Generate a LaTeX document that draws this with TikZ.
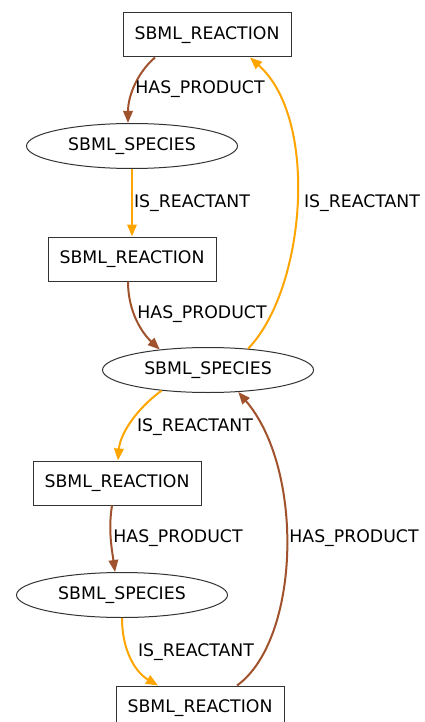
\documentclass[tikz,border=0pt]{standalone}
\usepackage{fontspec}
\setmainfont{DejaVu Sans}
\usetikzlibrary{shapes.geometric,arrows.meta,calc}
\definecolor{brownedge}{HTML}{A0522D}
\definecolor{orangeedge}{HTML}{FFA500}
\definecolor{nodeborder}{HTML}{333333}
\begin{document}
\begin{tikzpicture}[x=1pt,y=-1pt,
  every node/.style={font=\fontsize{17.3}{20}\selectfont, text=black},
  reaction/.style={draw=nodeborder, line width=1pt, rectangle, minimum width=168pt, minimum height=44pt, inner sep=0pt},
  species/.style={draw=nodeborder, line width=1pt, ellipse, minimum width=211pt, minimum height=45pt, inner sep=0pt},
  hasprod/.style={draw=brownedge, line width=2pt, -{Triangle[length=12pt,width=9.5pt]}},
  isreact/.style={draw=orangeedge, line width=2pt, -{Triangle[length=12pt,width=9.5pt]}},
  elabel/.style={inner sep=0pt}]
\useasboundingbox (0,0) rectangle (424,722);
\fill[white] (0,0) rectangle (424,722);

\node[reaction] (R1) at (207,35) {SBML\_REACTION};
\node[species]  (S1) at (132,146) {SBML\_SPECIES};
\node[reaction] (R2) at (132,259) {SBML\_REACTION};
\node[species]  (S2) at (208,370) {SBML\_SPECIES};
\node[reaction] (R3) at (117,483) {SBML\_REACTION};
\node[species]  (S3) at (122,595) {SBML\_SPECIES};
\node[reaction] (R4) at (200,708) {SBML\_REACTION};

% edges
\draw[hasprod] ($(R1.south)+(-52,0)$) .. controls (138,72) and (128,95) .. ($(S1.north)+(-4,0)$);
\draw[isreact] (S1.south) -- (R2.north);
\draw[hasprod] ($(R2.south)+(-4,0)$) .. controls (128,312) and (142,333) .. (S2.157);
\draw[isreact] (S2.28) .. controls (305,290) and (320,120) .. ($(R1.south)+(43,0)$);
\draw[isreact] (S2.204) .. controls (135,410) and (120,435) .. ($(R3.north)+(1,0)$);
\draw[hasprod] ($(R3.south)+(-5,0)$) .. controls (108,530) and (112,550) .. ($(S3.north)+(-7,0)$);
\draw[isreact] (S3.south) .. controls (122,650) and (135,672) .. ($(R4.north)+(-42,0)$);
\draw[hasprod] ($(R4.north)+(37,0)$) .. controls (300,640) and (305,470) .. (S2.324);

% labels
\node[elabel] (L1) at (200,89) {HAS\_PRODUCT};
\node[elabel] (L2) at (192,203) {IS\_REACTANT};
\node[elabel] (L3) at (202,314) {HAS\_PRODUCT};
\node[elabel] (L4) at (362,203) {IS\_REACTANT};
\node[elabel] (L5) at (195,427) {IS\_REACTANT};
\node[elabel] (L6) at (178,538) {HAS\_PRODUCT};
\node[elabel] (L7) at (354,538) {HAS\_PRODUCT};
\node[elabel] (L8) at (196,652) {IS\_REACTANT};
\end{tikzpicture}
\end{document}
